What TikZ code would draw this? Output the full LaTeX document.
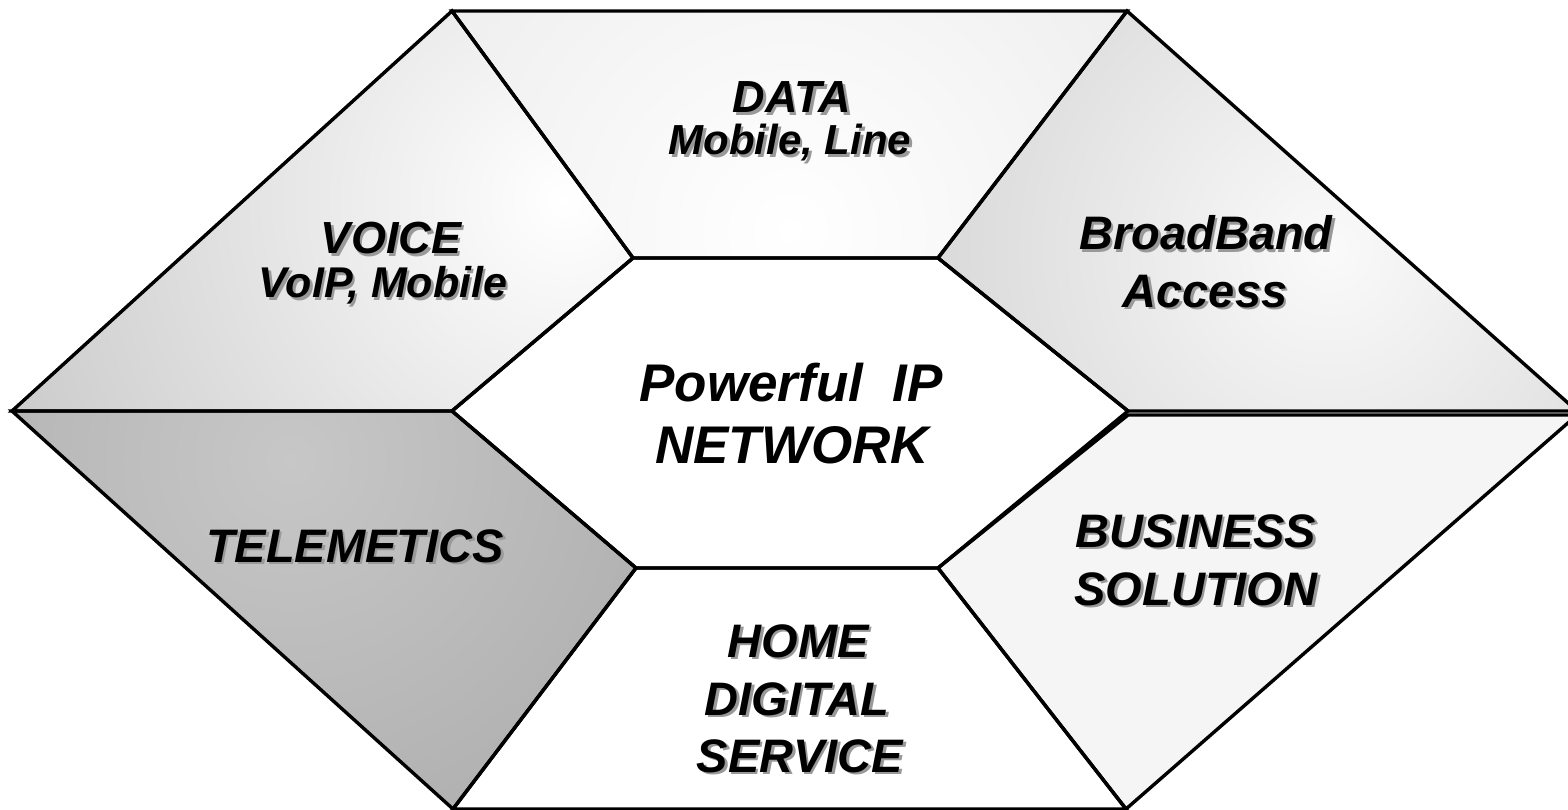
\documentclass[tikz,border=0pt]{standalone}
\usepackage{fontspec}
\setmainfont{Liberation Sans}
\newcommand\mklab[5]{%
  \node[lbl, text=black!40, text height={0.72*#4pt}, font=\fontsize{#4}{#4}\selectfont\bfseries\itshape] (#1s) at (#2+2.5,#3+2.5) {#5};
  \node[lbl, text height={0.72*#4pt}, font=\fontsize{#4}{#4}\selectfont\bfseries\itshape] (#1) at (#2,#3) {#5};}
\begin{document}
\begin{tikzpicture}[x=1pt,y=-1pt,
  outline/.style={draw=black, line width=3.4pt, line join=miter},
  lbl/.style={anchor=base, inner sep=0pt, text depth=0pt, text=black}]
\useasboundingbox (0,0) rectangle (1568,810);
% vertices
\coordinate (T1) at (452,11);
\coordinate (T2) at (1127,11);
\coordinate (L) at (12,411);
\coordinate (RB) at (1577,411);
\coordinate (RS) at (1577,415);
\coordinate (B1) at (453,809);
\coordinate (B2) at (1126,809);
\coordinate (H1) at (452,411);
\coordinate (H2) at (633,258);
\coordinate (H3) at (938,258);
\coordinate (H4) at (1128,411);
\coordinate (H4b) at (1128,415);
\coordinate (H5) at (938,568);
\coordinate (H6) at (636,568);
% VOICE
\fill[black!28] (T1)--(H2)--(H1)--(L)--cycle;
\begin{scope}
  \clip (T1)--(H2)--(H1)--(L)--cycle;
  \shade[inner color=white, outer color=black!28] (565,200) circle (820);
\end{scope}
% DATA
\fill[black!13] (T1)--(T2)--(H3)--(H2)--cycle;
\begin{scope}
  \clip (T1)--(T2)--(H3)--(H2)--cycle;
  \shade[inner color=white, outer color=black!13] (790,230) circle (820);
\end{scope}
% BROADBAND
\fill[black!18] (T2)--(RB)--(H4)--(H3)--cycle;
\begin{scope}
  \clip (T2)--(RB)--(H4)--(H3)--cycle;
  \shade[inner color=black!2, outer color=black!18] (1330,250) circle (500);
\end{scope}
% TELEMETICS
\fill[black!36] (L)--(H1)--(H6)--(B1)--cycle;
\begin{scope}
  \clip (L)--(H1)--(H6)--(B1)--cycle;
  \shade[inner color=black!22, outer color=black!37] (290,460) circle (680);
\end{scope}
% BUSINESS
\fill[black!4] (H4b)--(RS)--(B2)--(H5)--cycle;
% HOME and centre
\fill[white] (H6)--(H5)--(B2)--(B1)--cycle;
\fill[white] (H1)--(H2)--(H3)--(H4)--(H5)--(H6)--cycle;
% outlines
\draw[outline] (T1)--(H2)--(H1)--(L)--cycle;
\draw[outline] (T1)--(T2)--(H3)--(H2)--cycle;
\draw[outline] (T2)--(RB)--(H4)--(H3)--cycle;
\draw[outline] (L)--(H1)--(H6)--(B1)--cycle;
\draw[outline] (H4b)--(RS)--(B2)--(H5)--cycle;
\draw[outline] (H6)--(H5)--(B2)--(B1)--cycle;
\draw[outline] (H1)--(H2)--(H3)--(H4)--(H5)--(H6)--cycle;
% labels
\mklab{data}{792}{113}{45}{DATA}
\mklab{datab}{790}{155}{42}{Mobile, Line}
\mklab{voice}{391}{254}{45}{VOICE}
\mklab{voiceb}{383}{298}{43}{VoIP, Mobile}
\mklab{bb}{1206}{250}{47}{BroadBand}
\mklab{bbb}{1205}{307}{47}{Access}
\mklab{tel}{355}{562}{47}{TELEMETICS}
\mklab{bus}{1196}{547}{47}{BUSINESS}
\mklab{busb}{1196}{605}{47}{SOLUTION}
\mklab{home}{798}{657}{47}{HOME}
\mklab{homeb}{797}{715}{47}{DIGITAL}
\mklab{homec}{800}{772}{47}{SERVICE}
\node[lbl, text height=38pt, font=\fontsize{53}{53}\selectfont\bfseries\itshape] (ip) at (791,401) {Powerful\ \ IP};
\node[lbl, text height=38pt, font=\fontsize{53}{53}\selectfont\bfseries\itshape] (net) at (792,463) {NETWORK};
\end{tikzpicture}
\end{document}
